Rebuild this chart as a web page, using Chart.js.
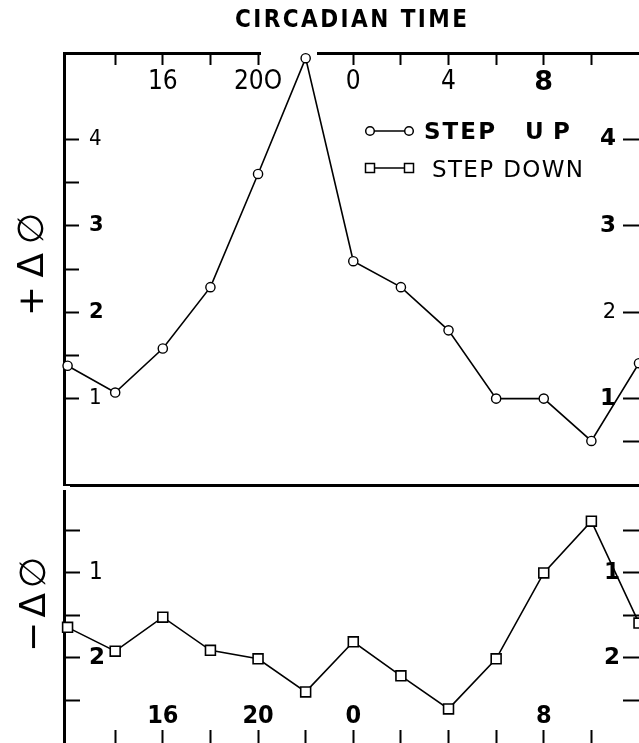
<!DOCTYPE html>
<html><head><meta charset="utf-8">
<script src="https://cdn.jsdelivr.net/npm/chart.js@4.4.1/dist/chart.umd.min.js"></script>
<style>
html,body{margin:0;padding:0;background:#fff;overflow:hidden;width:639px;height:743px;}
#wrap{position:relative;width:639px;height:743px;overflow:hidden;background:#fff;}
#up{position:absolute;left:0;top:0;}
#down{position:absolute;left:0;top:470px;}
</style></head><body>
<div id="wrap">
<canvas id="up" width="639" height="500" style="width:639px;height:500px"></canvas>
<canvas id="down" width="639" height="290" style="width:639px;height:290px"></canvas>
</div>
<script>
// ---- data (circadian time in hours, 24 = CT 0 of next day) ----
const circadianHours = [12, 14, 16, 18, 20, 22, 24, 26, 28, 30, 32, 34, 36];
const stepUp   = [1.38, 1.07, 1.58, 2.29, 3.60, 4.94, 2.59, 2.29, 1.79, 1.00, 1.00, 0.51, 1.41];
const stepDown = [1.64, 1.92, 1.52, 1.91, 2.01, 2.40, 1.81, 2.21, 2.60, 2.01, 1.00, 0.39, 1.59];

// ---- tick values and labels ----
const topTickValues = [14, 16, 18, 20, 24, 26, 28, 30, 32, 34];
const topTickLabels = {16: '16', 20: '20O', 24: '0', 28: '4', 32: '8'};
const bottomTickValues = [14, 16, 18, 20, 22, 24, 26, 28, 30, 32, 34];
const bottomTickLabels = {16: '16', 20: '20', 24: '0', 32: '8'};
const upperLeftTickValues = [1, 1.5, 2, 2.5, 3, 3.5, 4];
const upperRightTickValues = [0.5, 1, 2, 3, 4];
const upperTickLabels = {1: '1', 2: '2', 3: '3', 4: '4'};
const lowerTickValues = [0.5, 1, 1.5, 2, 2.5];
const lowerTickLabels = {1: '1', 2: '2'};

const titleText = 'CIRCADIAN TIME';
const upperAxisTitle = '+\u0394\u2205';
const lowerAxisTitle = '\u2212\u0394\u2205';
const legendUp = ['STEP', 'U', 'P'];
const legendDown = 'STEP DOWN';

const X_MIN = 11.85, X_MAX = 36;
const NARROW = "'Liberation Sans Narrow','DejaVu Sans Condensed',sans-serif";
const SANS = "'DejaVu Sans',sans-serif";

function setTicks(values) { return (s) => { s.ticks = values.map(v => ({value: v})); }; }
function lab(map) { return (v) => (map[v] !== undefined ? map[v] : ''); }
function fixSize(prop, val) {
  return (s) => {
    s[prop] = val;
    s.paddingTop = 0; s.paddingBottom = 0; s.paddingLeft = 0; s.paddingRight = 0;
  };
}

function spacedText(ctx, text, left, baseline, width) {
  const chars = Array.from(text);
  const ws = chars.map(c => ctx.measureText(c).width);
  const total = ws.reduce((a, b) => a + b, 0);
  const gap = chars.length > 1 ? (width - total) / (chars.length - 1) : 0;
  let x = left;
  ctx.textAlign = 'left';
  ctx.textBaseline = 'alphabetic';
  chars.forEach((c, i) => { ctx.fillText(c, x, baseline); x += ws[i] + gap; });
}

const upperDecor = {
  id: 'upperDecor',
  beforeDatasetsDraw(chart) {
    const ctx = chart.ctx;
    ctx.save();
    ctx.fillStyle = '#fff';
    ctx.fillRect(261, 48, 56, 9);
    ctx.restore();
  },
  afterDraw(chart) {
    const ctx = chart.ctx;
    ctx.save();
    ctx.fillStyle = '#000';
    ctx.strokeStyle = '#000';
    ctx.font = "bold 24px " + NARROW;
    spacedText(ctx, titleText, 235, 27, 232);
    ctx.save();
    ctx.translate(43, 316);
    ctx.rotate(-Math.PI / 2);
    ctx.font = "36px " + SANS;
    spacedText(ctx, upperAxisTitle, 0, 0, 103);
    ctx.restore();
    ctx.lineWidth = 1.5;
    ctx.beginPath(); ctx.moveTo(370, 131); ctx.lineTo(409, 131); ctx.stroke();
    [370, 409].forEach(x => {
      ctx.beginPath(); ctx.arc(x, 131, 4.3, 0, Math.PI * 2);
      ctx.fillStyle = '#fff'; ctx.fill(); ctx.stroke();
    });
    ctx.fillStyle = '#000';
    ctx.font = "bold 23px " + SANS;
    spacedText(ctx, legendUp[0], 424, 139, 71);
    ctx.fillText(legendUp[1], 525, 139);
    ctx.fillText(legendUp[2], 553, 139);
    ctx.beginPath(); ctx.moveTo(370, 168); ctx.lineTo(409, 168); ctx.stroke();
    [370, 409].forEach(x => {
      ctx.fillStyle = '#fff';
      ctx.fillRect(x - 4.5, 163.5, 9, 9);
      ctx.strokeRect(x - 4.5, 163.5, 9, 9);
    });
    ctx.fillStyle = '#000';
    ctx.font = "23px " + SANS;
    spacedText(ctx, legendDown, 432, 177, 151);
    ctx.restore();
  }
};

const lowerDecor = {
  id: 'lowerDecor',
  beforeDatasetsDraw(chart) {
    const ctx = chart.ctx;
    ctx.save();
    ctx.fillStyle = '#fff';
    ctx.fillRect(58, 16, 12, 4);
    ctx.restore();
  },
  afterDraw(chart) {
    const ctx = chart.ctx;
    ctx.save();
    ctx.fillStyle = '#000';
    ctx.translate(45, 182);
    ctx.rotate(-Math.PI / 2);
    ctx.font = "36px " + SANS;
    spacedText(ctx, lowerAxisTitle, 0, 0, 95);
    ctx.restore();
  }
};

const common = {
  responsive: false, animation: false, devicePixelRatio: 1,
  plugins: {legend: {display: false}, tooltip: {enabled: false}, title: {display: false}},
  events: []
};

new Chart(document.getElementById('up'), {
  type: 'line',
  data: {datasets: [{
    label: 'STEP UP',
    data: circadianHours.map((h, i) => ({x: h, y: stepUp[i]})),
    borderColor: '#000', borderWidth: 1.6, tension: 0,
    pointStyle: 'circle', pointRadius: 4.6,
    pointBackgroundColor: '#fff', pointBorderColor: '#000', pointBorderWidth: 1.4,
    clip: false
  }]},
  options: Object.assign({}, common, {
    layout: {autoPadding: false, padding: {top: 53, left: 0, right: 0, bottom: 15}},
    scales: {
      x: {
        type: 'linear', position: 'top', min: X_MIN, max: X_MAX,
        afterFit: fixSize('height', 0), afterBuildTicks: setTicks(topTickValues),
        border: {display: true, width: 3, color: '#000'},
        grid: {drawOnChartArea: false, drawTicks: true, tickLength: -12, tickWidth: 2, tickColor: '#000'},
        ticks: {
          mirror: true, padding: 14, autoSkip: false, maxRotation: 0, minRotation: 0, color: '#000',
          callback: lab(topTickLabels),
          font: (c) => (c.tick && c.tick.value === 32)
            ? {family: SANS, weight: 'bold', size: 27}
            : {family: NARROW, weight: 'normal', size: 26}
        }
      },
      xb: {
        type: 'linear', position: 'bottom', min: X_MIN, max: X_MAX,
        afterFit: fixSize('height', 0),
        border: {display: true, width: 3, color: '#000'},
        grid: {drawOnChartArea: false, drawTicks: false},
        ticks: {display: false}
      },
      y: {
        type: 'linear', position: 'left', min: 0, max: 5,
        afterFit: fixSize('width', 64), afterBuildTicks: setTicks(upperLeftTickValues),
        border: {display: true, width: 3, color: '#000'},
        grid: {drawOnChartArea: false, tickLength: -15, tickWidth: 2, tickColor: '#000'},
        ticks: {
          mirror: true, padding: 25, autoSkip: false, color: '#000',
          callback: lab(upperTickLabels),
          font: (c) => (c.tick && (c.tick.value === 2 || c.tick.value === 3))
            ? {family: SANS, weight: 'bold', size: 21}
            : {family: NARROW, weight: 'normal', size: 22}
        }
      },
      y2: {
        type: 'linear', position: 'right', min: 0, max: 5,
        afterFit: fixSize('width', 0), afterBuildTicks: setTicks(upperRightTickValues),
        border: {display: false},
        grid: {drawOnChartArea: false, tickLength: -16, tickWidth: 2, tickColor: '#000'},
        ticks: {
          mirror: true, padding: -23, autoSkip: false, color: '#000',
          callback: lab(upperTickLabels),
          font: (c) => (c.tick && c.tick.value === 2)
            ? {family: SANS, weight: 'normal', size: 21}
            : {family: SANS, weight: 'bold', size: 23}
        }
      }
    }
  }),
  plugins: [upperDecor]
});

new Chart(document.getElementById('down'), {
  type: 'line',
  data: {datasets: [{
    label: 'STEP DOWN',
    data: circadianHours.map((h, i) => ({x: h, y: stepDown[i]})),
    borderColor: '#000', borderWidth: 1.6, tension: 0,
    pointStyle: 'rect', pointRadius: 7,
    pointBackgroundColor: '#fff', pointBorderColor: '#000', pointBorderWidth: 1.6,
    clip: false
  }]},
  options: Object.assign({}, common, {
    layout: {autoPadding: false, padding: {top: 18, left: 0, right: 0, bottom: 12}},
    scales: {
      x: {
        type: 'linear', position: 'bottom', min: X_MIN, max: X_MAX,
        afterFit: fixSize('height', 0), afterBuildTicks: setTicks(bottomTickValues),
        border: {display: false},
        grid: {drawOnChartArea: false, drawTicks: true, tickLength: -18, tickWidth: 2, tickColor: '#000'},
        ticks: {
          mirror: true, padding: 17, autoSkip: false, maxRotation: 0, minRotation: 0, color: '#000',
          callback: lab(bottomTickLabels),
          font: {family: "'DejaVu Sans Condensed'," + SANS, weight: 'bold', size: 25}
        }
      },
      y: {
        type: 'linear', position: 'left', min: 0, max: 3.06, reverse: true,
        afterFit: fixSize('width', 64), afterBuildTicks: setTicks(lowerTickValues),
        border: {display: true, width: 3, color: '#000'},
        grid: {drawOnChartArea: false, tickLength: -16, tickWidth: 2, tickColor: '#000'},
        ticks: {
          mirror: true, padding: 25, autoSkip: false, color: '#000',
          callback: lab(lowerTickLabels),
          font: (c) => (c.tick && c.tick.value === 2)
            ? {family: SANS, weight: 'bold', size: 23}
            : {family: NARROW, weight: 'normal', size: 24}
        }
      },
      y2: {
        type: 'linear', position: 'right', min: 0, max: 3.06, reverse: true,
        afterFit: fixSize('width', 0), afterBuildTicks: setTicks(lowerTickValues),
        border: {display: false},
        grid: {drawOnChartArea: false, tickLength: -16, tickWidth: 2, tickColor: '#000'},
        ticks: {
          mirror: true, padding: -19, autoSkip: false, color: '#000',
          callback: lab(lowerTickLabels),
          font: {family: SANS, weight: 'bold', size: 23}
        }
      }
    }
  }),
  plugins: [lowerDecor]
});
</script>
</body></html>
